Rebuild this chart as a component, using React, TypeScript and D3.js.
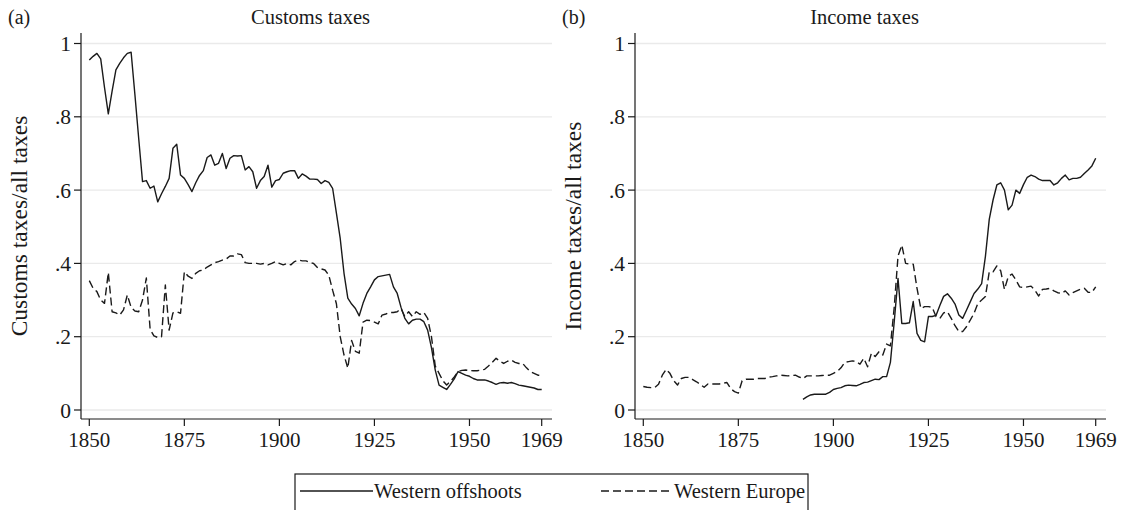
import React from "react";
import * as d3 from "d3";

// ---------- data ----------
const xTicks = [1850, 1875, 1900, 1925, 1950, 1969];
const yTicks = [0, 0.2, 0.4, 0.6, 0.8, 1];
const yTickLabels = ["0", ".2", ".4", ".6", ".8", "1"];

const customsOffYears = d3.range(1850, 1970);
const customsOff = [
  0.955, 0.965, 0.973, 0.958, 0.88, 0.808, 0.87, 0.928, 0.946, 0.961,
  0.973, 0.976, 0.86, 0.74, 0.623, 0.626, 0.605, 0.611, 0.568, 0.59,
  0.61, 0.632, 0.714, 0.725, 0.641, 0.632, 0.615, 0.596, 0.62, 0.64,
  0.653, 0.689, 0.696, 0.668, 0.673, 0.7, 0.659, 0.687, 0.694, 0.693,
  0.694, 0.655, 0.664, 0.65, 0.605, 0.626, 0.637, 0.668, 0.608, 0.626,
  0.629, 0.646, 0.65, 0.653, 0.653, 0.632, 0.644, 0.638, 0.63, 0.63,
  0.629, 0.618, 0.626, 0.621, 0.605, 0.537, 0.468, 0.373, 0.305, 0.289,
  0.277, 0.257, 0.291, 0.318, 0.336, 0.355, 0.364, 0.366, 0.368, 0.37,
  0.336, 0.318, 0.28, 0.25, 0.235, 0.245, 0.248, 0.248, 0.241, 0.218,
  0.17, 0.109, 0.068, 0.062, 0.056, 0.07, 0.085, 0.105, 0.1, 0.095,
  0.092, 0.086, 0.082, 0.082, 0.082, 0.079, 0.075, 0.07, 0.074, 0.075,
  0.073, 0.075, 0.072, 0.068, 0.066, 0.064, 0.062, 0.06, 0.056, 0.056,
];

const customsEurYears = d3.range(1850, 1970);
const customsEur = [
  0.353, 0.332, 0.323, 0.3, 0.291, 0.375, 0.268, 0.265, 0.259, 0.273,
  0.314, 0.28, 0.27, 0.268, 0.3, 0.36, 0.22, 0.202, 0.198, 0.2,
  0.341, 0.218, 0.265, 0.268, 0.264, 0.377, 0.365, 0.359, 0.373, 0.38,
  0.382, 0.39, 0.396, 0.402, 0.405, 0.409, 0.412, 0.42, 0.42, 0.426,
  0.424, 0.402, 0.4, 0.4, 0.4, 0.398, 0.4, 0.396, 0.4, 0.405,
  0.4, 0.396, 0.4, 0.396, 0.405, 0.409, 0.407, 0.407, 0.402, 0.4,
  0.389, 0.385, 0.382, 0.368, 0.327, 0.29, 0.2, 0.15, 0.114, 0.19,
  0.16, 0.155, 0.24, 0.245, 0.244, 0.24, 0.235, 0.259, 0.262, 0.266,
  0.266, 0.268, 0.277, 0.255, 0.268, 0.255, 0.268, 0.261, 0.266, 0.25,
  0.2, 0.12, 0.1, 0.08, 0.068, 0.078, 0.09, 0.105, 0.108, 0.109,
  0.108, 0.107, 0.107, 0.109, 0.111, 0.12, 0.13, 0.141, 0.133, 0.127,
  0.133, 0.136, 0.13, 0.127, 0.127, 0.115, 0.105, 0.1, 0.095, 0.095,
];

const incomeOffYears = d3.range(1892, 1970);
const incomeOff = [
  0.029, 0.036, 0.041, 0.043, 0.043, 0.043, 0.043, 0.048,
  0.056, 0.059, 0.061, 0.066, 0.068, 0.067, 0.066, 0.07, 0.075, 0.076,
  0.08, 0.084, 0.083, 0.091, 0.091, 0.13, 0.24, 0.359, 0.236, 0.236,
  0.238, 0.296, 0.209, 0.19, 0.186, 0.255, 0.255, 0.258, 0.285, 0.31,
  0.317, 0.305, 0.289, 0.259, 0.25, 0.272, 0.295, 0.318, 0.33, 0.345,
  0.42, 0.52, 0.573, 0.614, 0.62, 0.6, 0.546, 0.559, 0.6, 0.591,
  0.615, 0.635, 0.641, 0.637, 0.63, 0.626, 0.626, 0.626, 0.614, 0.62,
  0.632, 0.641, 0.628, 0.632, 0.632, 0.635, 0.645, 0.655, 0.666, 0.687,
];

const incomeEurYears = d3.range(1850, 1970);
const incomeEur = [
  0.064, 0.062, 0.061, 0.061, 0.07, 0.095, 0.111, 0.1, 0.08, 0.068,
  0.086, 0.089, 0.089, 0.083, 0.077, 0.07, 0.062, 0.071, 0.071, 0.071,
  0.071, 0.073, 0.075, 0.058, 0.05, 0.046, 0.08, 0.084, 0.084, 0.084,
  0.086, 0.086, 0.086, 0.09, 0.091, 0.093, 0.095, 0.094, 0.093, 0.094,
  0.095, 0.09, 0.086, 0.093, 0.093, 0.093, 0.093, 0.094, 0.095, 0.095,
  0.1, 0.105, 0.115, 0.13, 0.132, 0.134, 0.132, 0.125, 0.141, 0.118,
  0.155, 0.146, 0.159, 0.15, 0.18, 0.175, 0.28, 0.42, 0.45, 0.4,
  0.398, 0.398, 0.332, 0.277, 0.282, 0.282, 0.28, 0.255, 0.25, 0.265,
  0.268, 0.25, 0.23, 0.214, 0.214, 0.227, 0.245, 0.264, 0.291, 0.3,
  0.31, 0.377, 0.377, 0.393, 0.38, 0.329, 0.364, 0.371, 0.355, 0.336,
  0.334, 0.336, 0.338, 0.327, 0.311, 0.329, 0.33, 0.332, 0.325, 0.32,
  0.318, 0.325, 0.314, 0.32, 0.325, 0.33, 0.332, 0.321, 0.321, 0.336,
];

const legendLabels = ["Western offshoots", "Western Europe"];

// ---------- drawing ----------
const FONT = "'Liberation Serif', 'Times New Roman', serif";
const INK = "#1a1a1a";
const DASH = "8 4";

type Series = { years: number[]; values: number[]; dashed: boolean };

function Panel(props: {
  ox: number;
  tag: string;
  title: string;
  ytitle: string;
  series: Series[];
}) {
  const { ox, tag, title, ytitle, series } = props;
  const left = 81 + ox;
  const right = 552 + ox;
  const top = 33;
  const bottom = 419;
  const x = d3.scaleLinear().domain([1850, 1969]).range([89.3 + ox, 541.7 + ox]);
  const y = d3.scaleLinear().domain([0, 1]).range([410, 43.5]);
  const line = d3
    .line<[number, number]>()
    .x((d) => x(d[0]))
    .y((d) => y(d[1]));

  return (
    <g>
      <text x={ox + 8} y={24} fontSize={20} fontFamily={FONT} fill={INK}>
        {tag}
      </text>
      <text
        x={(left + right) / 2 - 6}
        y={24}
        fontSize={20.5}
        fontFamily={FONT}
        fill={INK}
        textAnchor="middle"
      >
        {title}
      </text>
      {yTicks.map((t) => (
        <line
          key={"g" + t}
          x1={left}
          x2={right}
          y1={y(t)}
          y2={y(t)}
          stroke="#eaeaea"
          strokeWidth={1.3}
        />
      ))}
      {series.map((s, i) => (
        <path
          key={i}
          d={line(s.years.map((yr, j) => [yr, s.values[j]] as [number, number])) || ""}
          fill="none"
          stroke={INK}
          strokeWidth={1.4}
          strokeDasharray={s.dashed ? DASH : undefined}
          strokeLinejoin="round"
        />
      ))}
      <line x1={left} x2={left} y1={top} y2={bottom} stroke={INK} strokeWidth={1.2} />
      <line x1={left} x2={right} y1={bottom} y2={bottom} stroke={INK} strokeWidth={1.2} />
      {yTicks.map((t, i) => (
        <g key={"y" + t}>
          <line x1={left - 7} x2={left} y1={y(t)} y2={y(t)} stroke={INK} strokeWidth={1.2} />
          <text
            x={left - 10}
            y={y(t)}
            dy="0.35em"
            fontSize={21.5}
            fontFamily={FONT}
            fill={INK}
            textAnchor="end"
          >
            {yTickLabels[i]}
          </text>
        </g>
      ))}
      {xTicks.map((t) => (
        <g key={"x" + t}>
          <line x1={x(t)} x2={x(t)} y1={bottom} y2={bottom + 7} stroke={INK} strokeWidth={1.2} />
          <text
            x={x(t)}
            y={447}
            fontSize={21}
            fontFamily={FONT}
            fill={INK}
            textAnchor="middle"
          >
            {t}
          </text>
        </g>
      ))}
      <text
        transform={`translate(${ox + 27},${(top + bottom) / 2}) rotate(-90)`}
        fontSize={23.5}
        fontFamily={FONT}
        fill={INK}
        textAnchor="middle"
      >
        {ytitle}
      </text>
    </g>
  );
}

export default function App() {
  return (
    <svg
      width={1123}
      height={510}
      style={{ position: "absolute", left: 0, top: 0, background: "#fff" }}
    >
      <rect width={1123} height={510} fill="#fff" />
      <Panel
        ox={0}
        tag="(a)"
        title="Customs taxes"
        ytitle="Customs taxes/all taxes"
        series={[
          { years: customsOffYears, values: customsOff, dashed: false },
          { years: customsEurYears, values: customsEur, dashed: true },
        ]}
      />
      <Panel
        ox={554}
        tag="(b)"
        title="Income taxes"
        ytitle="Income taxes/all taxes"
        series={[
          { years: incomeOffYears, values: incomeOff, dashed: false },
          { years: incomeEurYears, values: incomeEur, dashed: true },
        ]}
      />
      <g>
        <rect x={295} y={474} width={513} height={40} fill="none" stroke={INK} strokeWidth={1.2} />
        <line x1={300} x2={373} y1={491} y2={491} stroke={INK} strokeWidth={1.4} />
        <text x={374} y={498} fontSize={20.5} fontFamily={FONT} fill={INK}>
          {legendLabels[0]}
        </text>
        <line
          x1={601}
          x2={673}
          y1={491}
          y2={491}
          stroke={INK}
          strokeWidth={1.4}
          strokeDasharray={DASH}
        />
        <text x={674} y={498} fontSize={20.5} fontFamily={FONT} fill={INK}>
          {legendLabels[1]}
        </text>
      </g>
    </svg>
  );
}
